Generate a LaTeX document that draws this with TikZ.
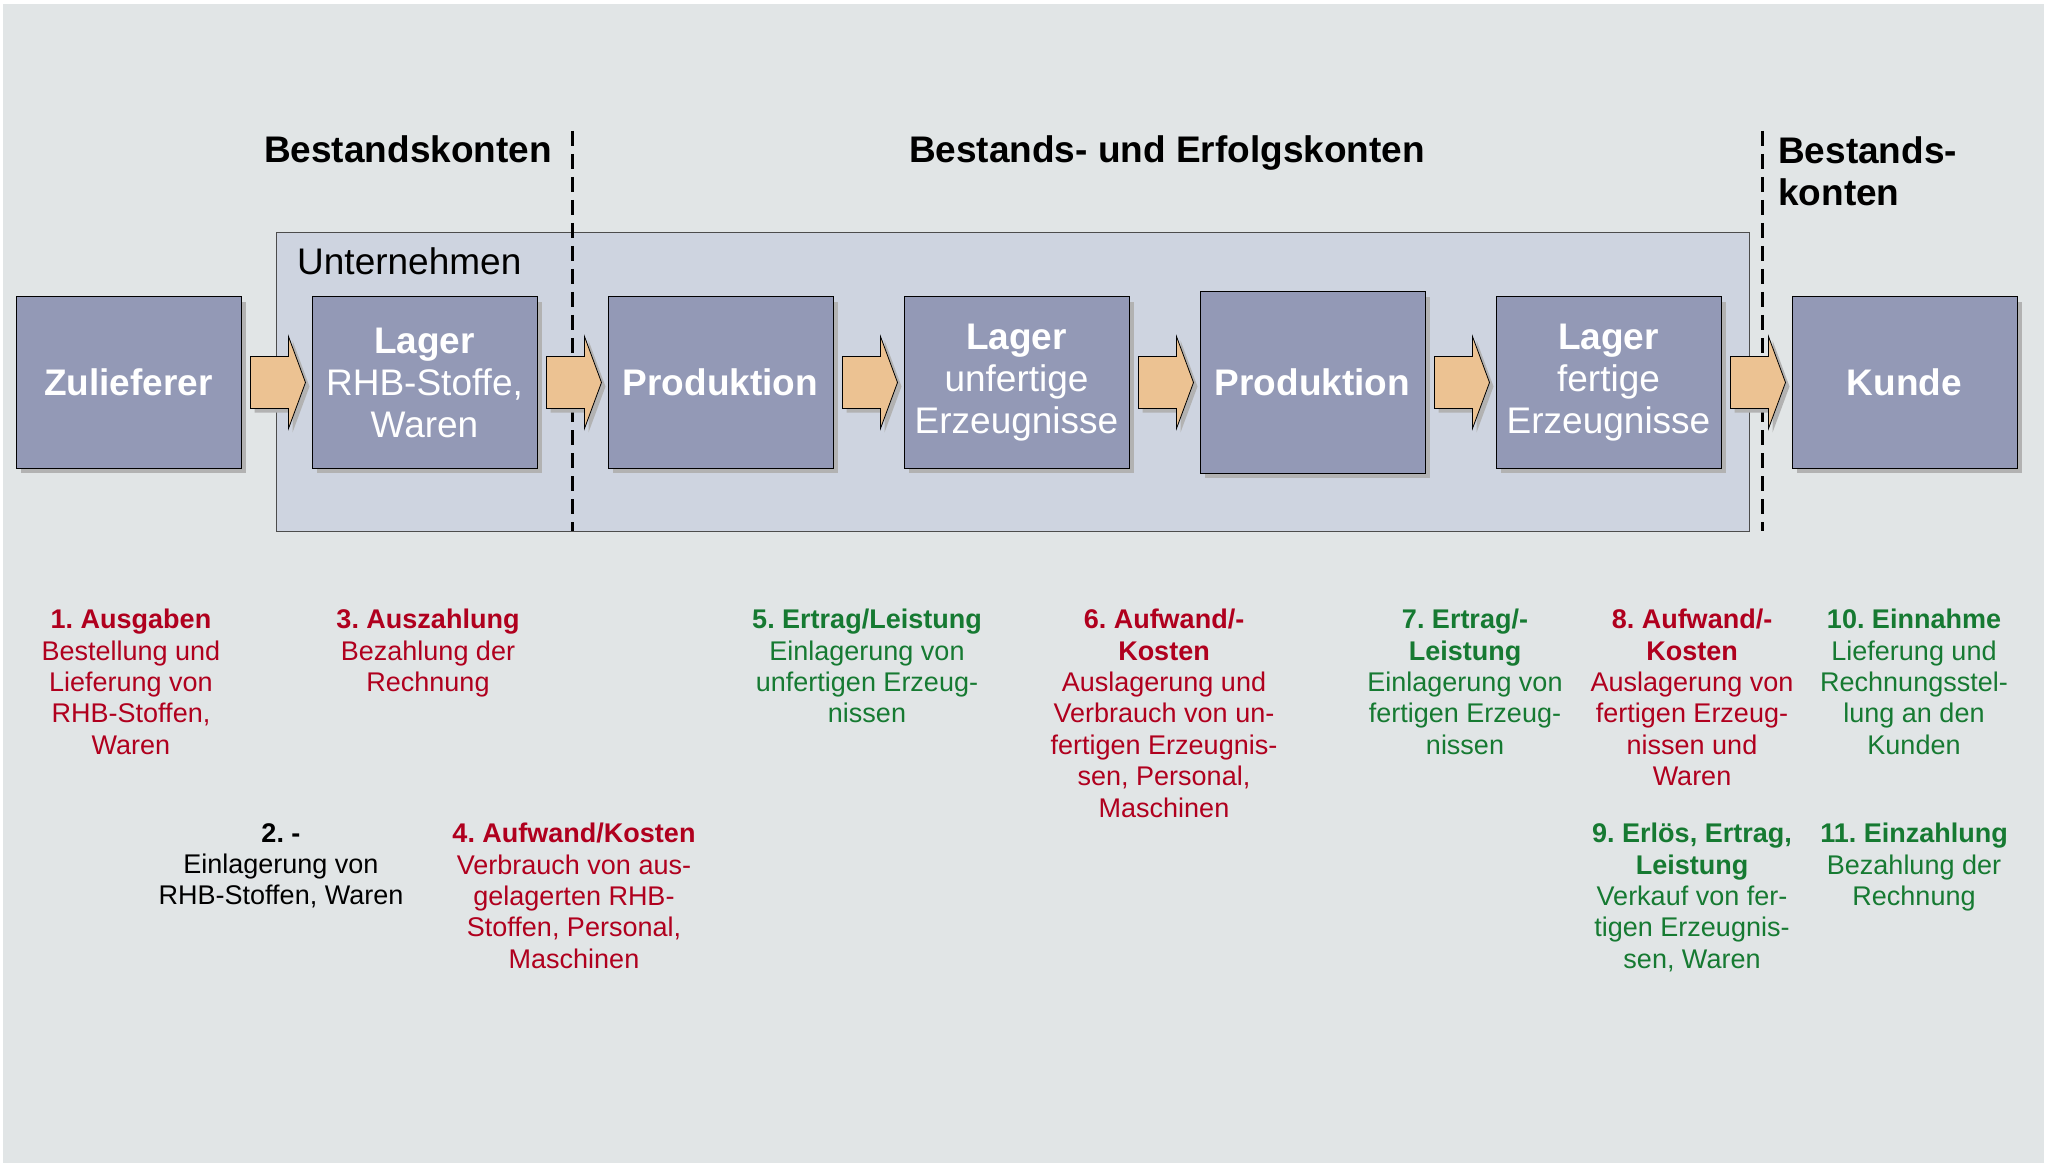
\documentclass[tikz,border=0pt]{standalone}
\usepackage{fontspec}
\setmainfont{Liberation Sans}
\usetikzlibrary{positioning,calc,shadows}
\frenchspacing
\definecolor{hinter}{RGB}{225,229,230}
\definecolor{firmablau}{RGB}{206,212,224}
\definecolor{kasten}{RGB}{147,153,182}
\definecolor{pfeilgelb}{RGB}{236,194,146}
\definecolor{rot}{RGB}{176,0,30}
\definecolor{gruen}{RGB}{22,122,50}
\tikzset{
    stelle/.style={rectangle, draw=black, fill=kasten, text=white, line width=1pt,
      minimum width=225pt, minimum height=171pt, inner sep=0pt, align=center,
      font=\fontsize{37}{42}\selectfont,
      drop shadow={shadow xshift=5pt, shadow yshift=-5pt, fill=black!30, opacity=1}},
    bereich/.style={rectangle, draw=black!70, fill=firmablau, line width=1pt, inner sep=0pt},
    titel/.style={font=\fontsize{37}{42}\selectfont\bfseries},
    notiz/.style={anchor=north, align=center, inner sep=0pt, font=\fontsize{27}{31.4}\selectfont},
    trenner/.style={line width=3pt, dash pattern=on 15pt off 8pt},
    pfeil/.style={draw=black, line width=0.8pt, fill=pfeilgelb,
      drop shadow={shadow xshift=4pt, shadow yshift=-4pt, fill=black!30, opacity=1}}
}
\newcommand{\pfeilvon}[2]{%
  \draw[pfeil] ($(#1.east)+(9,-26)$) -- ($(#2.west)+(-23,-26)$) -- ($(#2.west)+(-23,-46)$)
    -- ($(#2.west)+(-6,0)$) -- ($(#2.west)+(-23,46)$) -- ($(#2.west)+(-23,26)$)
    -- ($(#1.east)+(9,26)$) -- cycle;}

\begin{document}
\begin{tikzpicture}
  [
    x                       = 1pt,
    y                       = -1pt,
    node distance           = 70pt,
  ]
  % background
  \useasboundingbox (0,0) rectangle (2051,1166);
  \fill[white] (0,0) rectangle (2051,1166);
  \fill[hinter] (3,4) rectangle (2044,1163);

  % company frame
  \node[bereich, minimum width=1473pt, minimum height=298pt] (firma) at (1012.5,382) {};
  \node[anchor=base west, inner sep=0pt, font=\fontsize{37}{42}\selectfont] (firmatxt) at (297,275) {Unternehmen};

  % account borders
  \coordinate (t1o) at (572,131);
  \coordinate (t1u) at (572,531);
  \coordinate (t2o) at (1762,131);
  \coordinate (t2u) at (1762,531);
  \draw[trenner] (t1o) -- (t1u);
  \draw[trenner] (t2o) -- (t2u);

  \node[titel, anchor=base] (kopf1) at (408,163) {Bestandskonten};
  \node[titel, anchor=base] (kopf2) at (1167,163) {Bestands- und Erfolgskonten};
  \node[titel, anchor=north west, align=left, inner sep=0pt] (kopf3) at (1778,136) {Bestands-\\konten};

  % flow
  \node[stelle] (zul) at (128.5,382.5) {\textbf{Zulieferer}};
  \node[stelle, right=of zul] (lrhb) {\textbf{Lager}\\RHB-Stoffe,\\Waren};
  \node[stelle, right=of lrhb] (prod1) {\textbf{Produktion}};
  \node[stelle, right=of prod1] (lunf) {\textbf{Lager}\\unfertige\\Erzeugnisse};
  \node[stelle, right=of lunf, minimum height=181pt] (prod2) {\textbf{Produktion}};
  \node[stelle, right=of prod2] (lfert) {\textbf{Lager}\\fertige\\Erzeugnisse};
  \node[stelle, right=of lfert] (kunde) {\textbf{Kunde}};

  \foreach \a/\b in {zul/lrhb, lrhb/prod1, prod1/lunf, lunf/prod2, prod2/lfert, lfert/kunde}
    \pfeilvon{\a}{\b};

  % notes
  \node[notiz, text=rot] (n1) at (131,609) {\textbf{1. Ausgaben}\\Bestellung und\\Lieferung von\\RHB-Stoffen,\\Waren};
  \node[notiz, text=black] (n2) at (281,823) {\textbf{2. -}\\Einlagerung von\\RHB-Stoffen, Waren};
  \node[notiz, text=rot] (n3) at (428,609) {\textbf{3. Auszahlung}\\Bezahlung der\\Rechnung};
  \node[notiz, text=rot] (n4) at (574,823) {\textbf{4. Aufwand/Kosten}\\Verbrauch von aus-\\gelagerten RHB-\\Stoffen, Personal,\\Maschinen};
  \node[notiz, text=gruen] (n5) at (867,609) {\textbf{5. Ertrag/Leistung}\\Einlagerung von\\unfertigen Erzeug-\\nissen};
  \node[notiz, text=rot] (n6) at (1164,609) {\textbf{6. Aufwand/-}\\\textbf{Kosten}\\Auslagerung und\\Verbrauch von un-\\fertigen Erzeugnis-\\sen, Personal,\\Maschinen};
  \node[notiz, text=gruen] (n7) at (1465,609) {\textbf{7. Ertrag/-}\\\textbf{Leistung}\\Einlagerung von\\fertigen Erzeug-\\nissen};
  \node[notiz, text=rot] (n8) at (1692,609) {\textbf{8. Aufwand/-}\\\textbf{Kosten}\\Auslagerung von\\fertigen Erzeug-\\nissen und\\Waren};
  \node[notiz, text=gruen] (n9) at (1692,823) {\textbf{9. Erlös, Ertrag,}\\\textbf{Leistung}\\Verkauf von fer-\\tigen Erzeugnis-\\sen, Waren};
  \node[notiz, text=gruen] (n10) at (1914,609) {\textbf{10. Einnahme}\\Lieferung und\\Rechnungsstel-\\lung an den\\Kunden};
  \node[notiz, text=gruen] (n11) at (1914,823) {\textbf{11. Einzahlung}\\Bezahlung der\\Rechnung};
\end{tikzpicture}
\end{document}
